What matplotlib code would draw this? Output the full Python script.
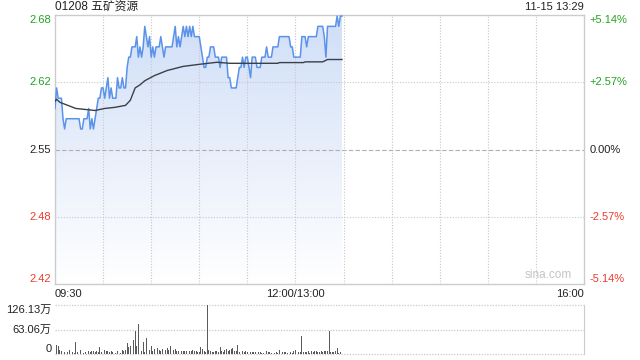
import numpy as np
import matplotlib
matplotlib.use("Agg")
import matplotlib.pyplot as plt
from matplotlib.colors import LinearSegmentedColormap
from matplotlib.patches import Polygon
from matplotlib.transforms import blended_transform_factory

plt.rcParams['font.family'] = ['Liberation Sans', 'Noto Sans CJK SC', 'DejaVu Sans']

title = "01208 五矿资源"
stamp = "11-15 13:29"
prev_close = 2.55
pct_levels = [5.14, 2.57, 0.0, -2.57, -5.14]
price_labels = ["2.68", "2.62", "2.55", "2.48", "2.42"]
pct_labels = ["+5.14%", "+2.57%", "0.00%", "-2.57%", "-5.14%"]
time_labels = ["09:30", "12:00/13:00", "16:00"]
vol_labels = ["126.13万", "63.06万", "0"]
vol_max = 126.13

# minute-by-minute price (09:30 .. 13:29, lunch collapsed)
price = [
    2.59, 2.61, 2.60, 2.60, 2.60, 2.58, 2.57, 2.58, 2.58, 2.58,
    2.58, 2.58, 2.58, 2.58, 2.58, 2.58, 2.57, 2.57, 2.58, 2.58,
    2.58, 2.59, 2.57, 2.58, 2.57, 2.58, 2.59, 2.60, 2.60, 2.61,
    2.61, 2.60, 2.61, 2.62, 2.60, 2.61, 2.60, 2.60, 2.60, 2.62,
    2.61, 2.61, 2.62, 2.61, 2.61, 2.63, 2.64, 2.64, 2.65, 2.65,
    2.65, 2.66, 2.64, 2.65, 2.64, 2.65, 2.67, 2.66, 2.65, 2.66,
    2.64, 2.65, 2.64, 2.65, 2.65, 2.65, 2.66, 2.65, 2.64, 2.65,
    2.65, 2.65, 2.65, 2.65, 2.66, 2.67, 2.65, 2.66, 2.65, 2.66,
    2.67, 2.66, 2.67, 2.66, 2.67, 2.66, 2.67, 2.66, 2.66, 2.66,
    2.66, 2.65, 2.64, 2.63, 2.63, 2.64, 2.64, 2.65, 2.65, 2.65,
    2.64, 2.64, 2.64, 2.63, 2.64, 2.64, 2.64, 2.64, 2.62, 2.62,
    2.61, 2.61, 2.61, 2.61, 2.62, 2.63, 2.63, 2.64, 2.63, 2.64,
    2.64, 2.63, 2.62, 2.64, 2.64, 2.64, 2.63, 2.63, 2.63, 2.64,
    2.64, 2.64, 2.65, 2.64, 2.64, 2.64, 2.65, 2.65, 2.65, 2.65,
    2.66, 2.66, 2.66, 2.66, 2.66, 2.66, 2.66, 2.65, 2.65, 2.64,
    2.64, 2.64, 2.64, 2.64, 2.66, 2.66, 2.66, 2.65, 2.66, 2.66,
    2.66, 2.66, 2.66, 2.66, 2.67, 2.67, 2.67, 2.67, 2.66, 2.64,
    2.67, 2.67, 2.67, 2.67, 2.67, 2.67, 2.68, 2.67, 2.68, 2.68,
]

avg_minutes = [0, 1, 3, 8, 13, 25, 31, 37, 44, 47, 50, 53, 56, 62, 70, 80,
               90, 101, 109, 139, 140, 155, 156, 167, 170, 179]
avg_values = [2.597, 2.599, 2.596, 2.593, 2.590, 2.588, 2.590, 2.591, 2.593,
              2.598, 2.610, 2.613, 2.617, 2.622, 2.627, 2.631, 2.633, 2.635,
              2.634, 2.634, 2.6347, 2.6347, 2.6354, 2.6354, 2.6377, 2.6377]

# volume per minute, in 万 shares
volume = [
    36, 24, 20, 11, 7, 60, 4, 1, 4, 11,
    2.5, 4, 2.5, 30, 4, 7, 11, 1, 2.5, 4,
    1, 7, 4, 7, 8.5, 4, 8.5, 4, 18, 4,
    1, 11, 7, 8.5, 4, 7, 4, 1, 2.5, 7,
    1, 2.5, 11, 7, 11, 28, 18, 20, 20, 35,
    58, 20, 78, 4, 7, 30, 4, 42, 7, 11,
    20, 7, 13, 11, 15, 11, 7, 13, 20, 11,
    15, 11, 20, 18, 11, 13, 7, 7, 7, 7,
    7, 7, 7, 8.5, 7, 7, 11, 7, 9, 4,
    4, 18, 12, 7, 4, 126.13, 11, 7, 4, 4,
    7, 7, 4, 18, 7, 4, 11, 13, 7, 11,
    13, 15, 7, 8.5, 24, 4, 4, 7, 4, 7,
    5, 7, 4, 4, 4, 4, 2.5, 4, 4, 2.5,
    2.5, 2.5, 8.5, 4, 4, 2.5, 5, 2.5, 4, 2.5,
    11, 4, 4, 4, 4, 2.5, 7, 4, 2.5, 7,
    11, 7, 4, 4, 47, 4, 4, 4, 7, 2.5,
    7, 4, 9, 7, 4, 4, 7, 4, 7, 9,
    7, 60, 4, 4, 4, 7, 15, 2.5, 4, 1,
]

total_minutes = 330
minutes = np.arange(len(price))

GREEN = "#22a322"
RED = "#ee3b2f"
BLACK = "#222222"
FRAME = "#cccccc"
GRID = "#c8c8c8"
LINE = "#5b92ea"

fig = plt.figure(figsize=(6.4, 3.6), dpi=100)
ax = fig.add_axes([55 / 640, 1 - 284 / 360, 529 / 640, 269 / 360])
axv = fig.add_axes([55 / 640, 1 - 354 / 360, 529 / 640, 49 / 360])

levels = [prev_close * (1 + p / 100) for p in pct_levels]
y_top, y_bot = levels[0], levels[-1]
ax.set_xlim(0, total_minutes)
ax.set_ylim(y_bot, y_top)

# gradient fill under the price line
cmap = LinearSegmentedColormap.from_list("g", ["#ffffff", "#e8effb", "#cfdef7"])
grad = np.linspace(0, 1, 256).reshape(-1, 1)
img = ax.imshow(grad, extent=[0, total_minutes, y_bot, y_top], origin="lower",
                aspect="auto", cmap=cmap, zorder=1)
verts = [(minutes[0], y_bot)] + list(zip(minutes, price)) + [(minutes[-1], y_bot)]
clip = Polygon(verts, closed=True, transform=ax.transData, facecolor="none", edgecolor="none")
ax.add_patch(clip)
img.set_clip_path(clip)
ax.set_xlim(0, total_minutes)
ax.set_ylim(y_bot, y_top)

# grid
for t in range(30, total_minutes, 30):
    ax.axvline(t, color=GRID, lw=0.8, ls=(0, (1, 1.5)), zorder=2)
for lv in levels[1:-1]:
    if abs(lv - prev_close) < 1e-9:
        ax.axhline(lv, color="#b0b0b0", lw=0.8, ls=(0, (4, 2)), zorder=2)
    else:
        ax.axhline(lv, color=GRID, lw=0.8, ls=(0, (1, 1.5)), zorder=2)

ax.plot(minutes, price, color=LINE, lw=1.1, zorder=4)
ax.plot(avg_minutes, avg_values, color="#3a4048", lw=1.0, zorder=5)

ax.set_xticks([])
ax.set_yticks([])
for s in ax.spines.values():
    s.set_color(FRAME)
    s.set_linewidth(1.0)

# y labels
fs = 8
n = len(levels)
bt = blended_transform_factory(ax.transAxes, ax.transData)
for i, (lv, pl, cl) in enumerate(zip(levels, price_labels, pct_labels)):
    col = GREEN if pct_levels[i] > 0 else (RED if pct_levels[i] < 0 else BLACK)
    va = "top" if i == 0 else ("bottom" if i == n - 1 else "center")
    ax.text(-0.007, lv, pl, transform=bt, ha="right", va=va, color=col, fontsize=fs)
    ax.text(1.011, lv, cl, transform=bt, ha="left", va=va, color=col, fontsize=fs)

# time labels
ax.text(0, -0.018, time_labels[0], transform=ax.transAxes, ha="left", va="top", fontsize=fs, color=BLACK)
ax.text(150 / total_minutes, -0.018, time_labels[1], transform=ax.transAxes, ha="center", va="top",
        fontsize=fs, color=BLACK)
ax.text(1, -0.018, time_labels[2], transform=ax.transAxes, ha="right", va="top", fontsize=fs, color=BLACK)

fig.text(55 / 640, 1 - 7.5 / 360, title, ha="left", va="center", fontsize=8.5, color=BLACK)
fig.text(584 / 640, 1 - 7.5 / 360, stamp, ha="right", va="center", fontsize=8, color=BLACK)
ax.text(0.978, 0.012, "sina.com", transform=ax.transAxes, ha="right", va="bottom", fontsize=8.5,
        color="#c4c4c4")

# volume panel
axv.set_xlim(0, total_minutes)
axv.set_ylim(0, vol_max)
axv.bar(minutes, volume, width=0.55, color="#5a5a5a", zorder=3)
for v in [vol_max, vol_max / 2, 0]:
    axv.axhline(v, color=GRID, lw=0.9, ls=(0, (1, 1.2)), zorder=2, clip_on=False)
axv.set_xticks([])
axv.set_yticks([])
for k in ["top", "bottom", "left"]:
    axv.spines[k].set_visible(False)
axv.spines["right"].set_color(FRAME)
vpos = [vol_max, vol_max / 2, 0]
vva = ["top", "center", "bottom"]
bv = blended_transform_factory(axv.transAxes, axv.transData)
for v, lab, va in zip(vpos, vol_labels, vva):
    axv.text(-0.007, v, lab, transform=bv, ha="right", va=va, fontsize=fs, color=BLACK)

fig.savefig("out.png", dpi=100)
